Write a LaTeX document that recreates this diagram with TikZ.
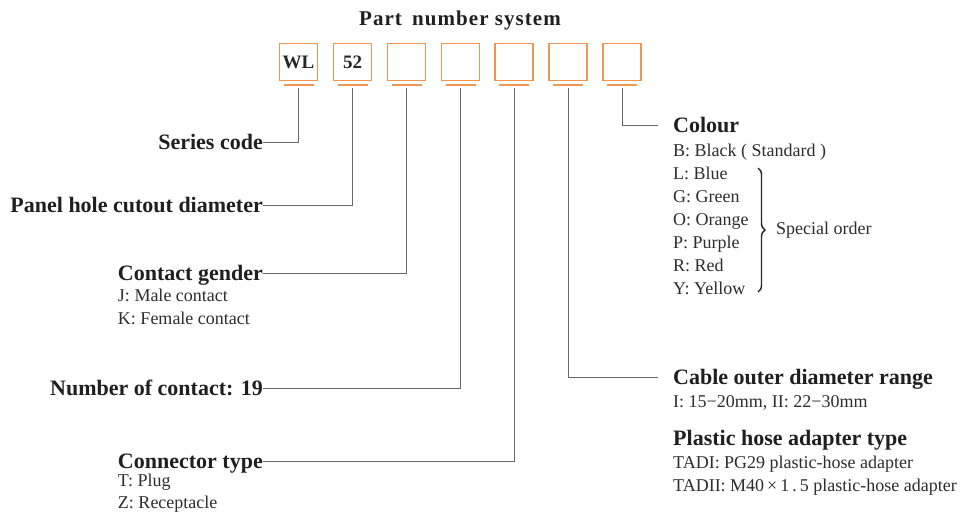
\documentclass[tikz,border=0pt]{standalone}
\usepackage{fontspec}
\setmainfont{Liberation Serif}
\usetikzlibrary{positioning,decorations.pathreplacing}
\definecolor{boxorange}{RGB}{240,150,80}
\definecolor{wiregray}{RGB}{105,105,105}
\definecolor{inkgray}{RGB}{45,45,45}
\tikzset{
    digit/.style={draw=boxorange, line width=1.2pt, minimum width=38pt, minimum height=37pt,
        inner sep=0pt, text=black!85, font=\bfseries\fontsize{19}{22}\selectfont},
    uline/.style={boxorange, line width=1.6pt},
    wire/.style={wiregray, line width=0.9pt, shorten <=7pt},
    head/.style={inner sep=0pt, text height=15pt, text depth=0pt, text=black!88,
        font=\bfseries\fontsize{22}{26}\selectfont},
    desc/.style={inner sep=0pt, align=left, text=inkgray, font=\fontsize{18}{23}\selectfont},
    curly/.style={decorate, decoration={brace,amplitude=7pt}, black!85, line width=1.4pt}
}
\begin{document}
\begin{tikzpicture}[x=1pt,y=-1pt]
	\useasboundingbox (0,0) rectangle (969,512);
	\node[font=\bfseries\fontsize{21}{24}\selectfont\addfontfeatures{LetterSpace=5}, text=black!88] (title) at (460,20) {Part\hspace{4pt} number system};
	\node[digit] (S1) at (298.5,62) {WL};
	\node[digit] (S2) at (352.5,62) {52};
	\node[digit] (S3) at (406.5,62) {};
	\node[digit] (S4) at (460.5,62) {};
	\node[digit] (S5) at (514,62) {};
	\node[digit] (S6) at (568,62) {};
	\node[digit] (S7) at (622,62) {};
	\foreach \i in {1,...,7}
		\draw[uline] ([xshift=-15pt,yshift=-4pt]S\i.south) -- ++(30,0);
	\node[head, anchor=east] (series) at (263,142) {Series code};
	\node[head, anchor=east] (panel) at (263,205) {Panel hole cutout diameter};
	\node[head, anchor=east] (gender) at (263,273) {Contact gender};
	\node[desc, below right=8.5pt and 0pt of gender.south west] (genderlist) {J: Male contact\\K: Female contact};
	\node[head, anchor=east] (contacts) at (263,388) {Number of contact: 19};
	\node[head, anchor=east] (ctype) at (263,461) {Connector type};
	\node[desc, font=\fontsize{18}{22}\selectfont, below right=5pt and 0pt of ctype.south west] (ctypelist) {T: Plug\\Z: Receptacle};
	\node[head, anchor=west] (colour) at (673,125) {Colour};
	\node[desc, below right=11pt and 0pt of colour.south west] (colourlist) {B: Black ( Standard )\\L: Blue\\G: Green\\O: Orange\\P: Purple\\R: Red\\Y: Yellow};
	\node[desc, anchor=west] (special) at (776,230) {Special order};
	\node[head, anchor=west] (cable) at (673,377) {Cable outer diameter range};
	\node[desc, below right=11pt and 0pt of cable.south west] (cablelist) {I: 15−20mm, II: 22−30mm};
	\node[head, anchor=west] (hose) at (673,438) {Plastic hose adapter type};
	\node[desc, below right=10pt and 0pt of hose.south west] (hoselist) {TADI: PG29 plastic-hose adapter\\TADII: M40\,×\,1\,.\,5 plastic-hose adapter};
	\draw[curly] (758,168) -- (758,292);
	\draw[wire] (S1.south) |- (series.east);
	\draw[wire] (S2.south) |- (panel.east);
	\draw[wire] (S3.south) |- (gender.east);
	\draw[wire] (S4.south) |- (contacts.east);
	\draw[wire] (S5.south) |- (ctype.east);
	\draw[wire, shorten >=15pt] (S6.south) |- (cable.west);
	\draw[wire, shorten >=15pt] (S7.south) |- (colour.west);
\end{tikzpicture}
\end{document}
